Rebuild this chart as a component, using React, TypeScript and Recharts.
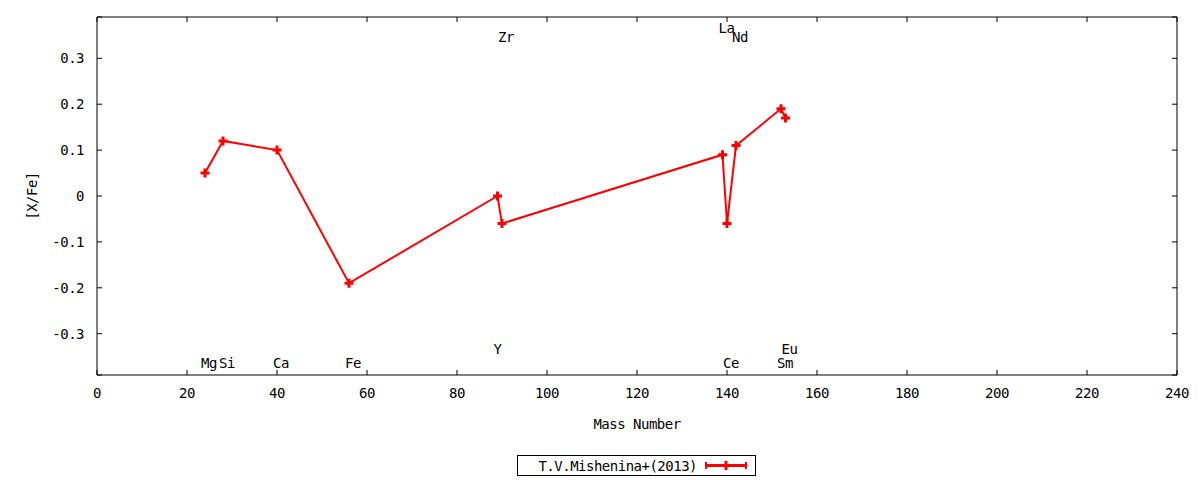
import { ComposedChart, CartesianGrid, Line, Scatter, XAxis, YAxis } from 'recharts'

const elements = ['Mg', 'Si', 'Ca', 'Fe', 'Y', 'Zr', 'La', 'Ce', 'Nd', 'Sm', 'Eu']
const massNumbers = [24, 28, 40, 56, 89, 90, 139, 140, 142, 152, 153]
const xFe = [0.05, 0.12, 0.1, -0.19, 0.0, -0.06, 0.09, -0.06, 0.11, 0.19, 0.17]
// where gnuplot put each element name, in [X/Fe] units
const labelY = [-0.363, -0.363, -0.363, -0.363, -0.333, 0.346, 0.367, -0.363, 0.346, -0.363, -0.333]

const xTicks = [0, 20, 40, 60, 80, 100, 120, 140, 160, 180, 200, 220, 240]
const yTicks = [-0.3, -0.2, -0.1, 0, 0.1, 0.2, 0.3]
const seriesName = 'T.V.Mishenina+(2013)'

const RED = '#ff0000'
const FONT = '"DejaVu Sans Mono", monospace'
const textStyle = { fontFamily: FONT, fontSize: 14, letterSpacing: -0.5, fill: '#000' }

const points = massNumbers.map((m, i) => ({ mass: m, value: xFe[i] }))
const labels = massNumbers.map((m, i) => ({ mass: m, pos: labelY[i], name: elements[i] }))

const X_DOMAIN: [number, number] = [0, 240]
const Y_DOMAIN: [number, number] = [-0.39, 0.39]

// plot box is 1080 x 358; the grid is dashed so only a 5px stub shows at each end,
// which gives gnuplot's inward ticks on all four sides
const PLOT_W = 1080
const PLOT_H = 358
const TICK = 5

function PlusDot(props: any) {
  const { cx, cy } = props
  if (cx == null || cy == null) return null
  return (
    <path
      d={`M${cx - 4.5},${cy}H${cx + 4.5}M${cx},${cy - 4.5}V${cy + 4.5}`}
      stroke={RED}
      strokeWidth={3}
      fill="none"
    />
  )
}

function ElementLabel(props: any) {
  const { cx, cy, payload } = props
  if (cx == null || cy == null) return null
  return (
    <text x={cx - 4} y={cy} dominantBaseline="central" style={textStyle}>
      {payload.name}
    </text>
  )
}

const fmtY = (v: number) => (v === 0 ? '0' : v.toFixed(1))

export default function App() {
  return (
    <div style={{ position: 'relative', width: 1184, height: 472 }}>
      <ComposedChart
        width={1184}
        height={464}
        data={points}
        margin={{ top: 9, right: 15, bottom: 0, left: 0 }}
      >
        <CartesianGrid
          xAxisId="main"
          yAxisId="main"
          horizontal={false}
          stroke="#000"
          strokeDasharray={`${TICK} ${PLOT_H - 2 * TICK} ${TICK}`}
        />
        <CartesianGrid
          xAxisId="main"
          yAxisId="main"
          vertical={false}
          stroke="#000"
          strokeDasharray={`${TICK} ${PLOT_W - 2 * TICK} ${TICK}`}
        />
        <XAxis
          xAxisId="main"
          type="number"
          dataKey="mass"
          domain={X_DOMAIN}
          ticks={xTicks}
          interval={0}
          allowDataOverflow
          height={97}
          tickLine={false}
          tickSize={6}
          tickMargin={7}
          axisLine={{ stroke: '#000' }}
          tick={textStyle}
          label={{ value: 'Mass Number', position: 'insideBottom', offset: 43, style: textStyle }}
        />
        <XAxis
          xAxisId="top"
          orientation="top"
          type="number"
          domain={X_DOMAIN}
          mirror
          tick={false}
          tickLine={false}
          axisLine={{ stroke: '#000' }}
        />
        <YAxis
          yAxisId="main"
          type="number"
          domain={Y_DOMAIN}
          ticks={yTicks}
          interval={0}
          allowDataOverflow
          width={89}
          tickLine={false}
          tickSize={6}
          tickMargin={7}
          tickFormatter={fmtY}
          axisLine={{ stroke: '#000' }}
          tick={textStyle}
          label={{
            content: (p: any) => {
              const vb = p.viewBox || {}
              const cx = (vb.x ?? 0) + 24
              const cy = (vb.y ?? 0) + (vb.height ?? 0) / 2
              return (
                <text
                  x={cx}
                  y={cy}
                  textAnchor="middle"
                  dominantBaseline="central"
                  transform={`rotate(-90 ${cx} ${cy})`}
                  style={textStyle}
                >
                  [X/Fe]
                </text>
              )
            }
          }}
        />
        <YAxis
          yAxisId="right"
          orientation="right"
          type="number"
          domain={Y_DOMAIN}
          mirror
          width={1}
          tick={false}
          tickLine={false}
          axisLine={{ stroke: '#000' }}
        />
        <Line
          xAxisId="main"
          yAxisId="main"
          type="linear"
          dataKey="value"
          name={seriesName}
          stroke={RED}
          strokeWidth={2}
          dot={<PlusDot />}
          activeDot={false}
          isAnimationActive={false}
        />
        <Scatter
          xAxisId="main"
          yAxisId="main"
          data={labels}
          dataKey="pos"
          shape={<ElementLabel />}
          isAnimationActive={false}
        />
      </ComposedChart>
      <svg
        width={239}
        height={21}
        style={{ position: 'absolute', left: 509, top: 447, display: 'block' }}
      >
        <rect x={0.5} y={0.5} width={238} height={20} fill="#fff" stroke="#000" />
        <text x={180} y={10.5} textAnchor="end" dominantBaseline="central" style={textStyle}>
          {seriesName}
        </text>
        <line x1={188} y1={10.5} x2={230} y2={10.5} stroke={RED} strokeWidth={3} />
        <line x1={189} y1={7} x2={189} y2={14} stroke={RED} strokeWidth={2} />
        <line x1={229} y1={7} x2={229} y2={14} stroke={RED} strokeWidth={2} />
        <path d="M204.5,10.5H213.5M209,6V15" stroke={RED} strokeWidth={3} />
      </svg>
    </div>
  )
}
